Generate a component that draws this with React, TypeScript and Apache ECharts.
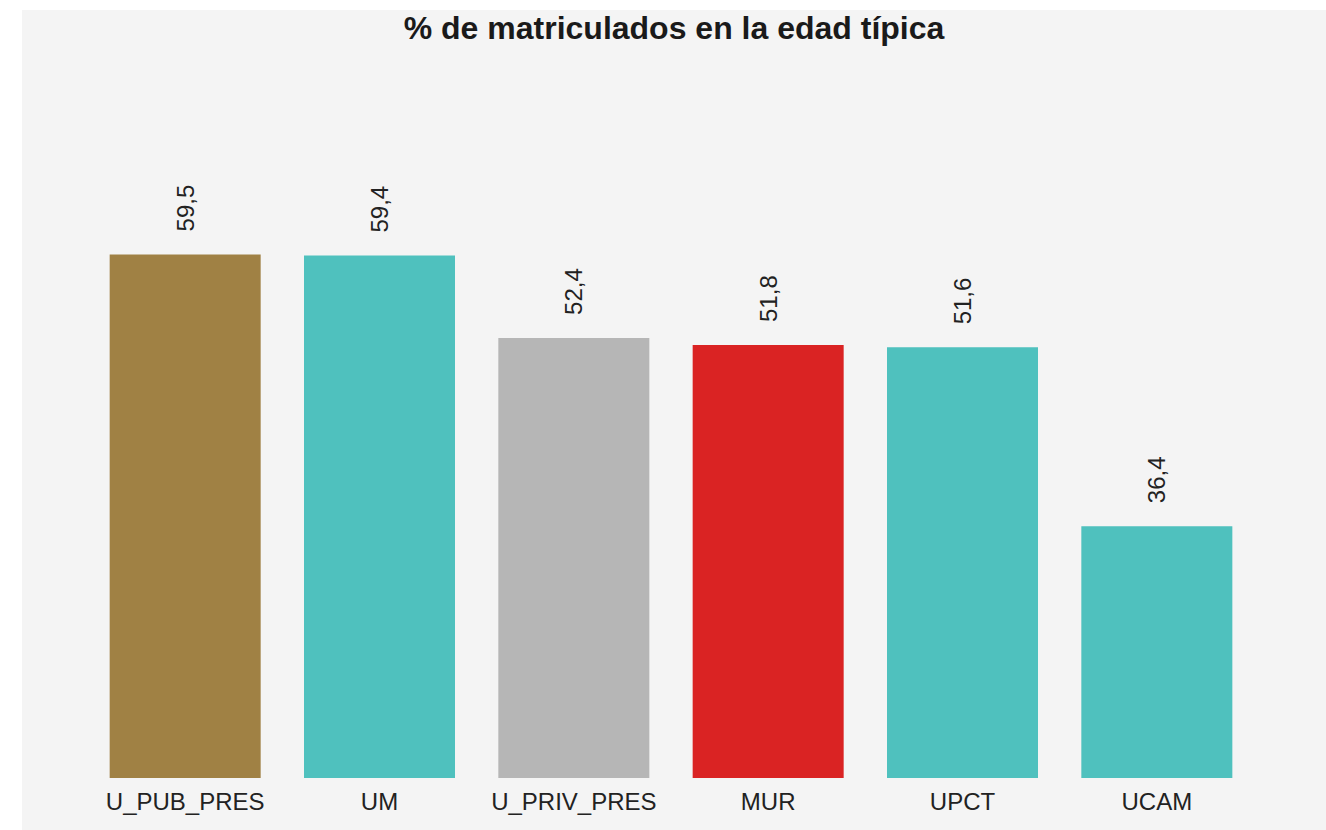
import React, { useEffect, useRef } from "react";
import * as echarts from "echarts";

const categories = ["U_PUB_PRES", "UM", "U_PRIV_PRES", "MUR", "UPCT", "UCAM"];
const values = [59.5, 59.4, 52.4, 51.8, 51.6, 36.4];
const colors = ["#A08144", "#4FC1BE", "#B6B6B6", "#DA2323", "#4FC1BE", "#4FC1BE"];
const titleText = "% de matriculados en la edad típica";

export default function App() {
  const ref = useRef<HTMLDivElement>(null);
  useEffect(() => {
    if (!ref.current) return;
    const chart = echarts.init(ref.current, null, { renderer: "svg" });
    chart.setOption({
      animation: false,
      backgroundColor: "#F4F4F4",
      textStyle: { fontFamily: "Liberation Sans, Arial, sans-serif" },
      title: {
        text: titleText,
        left: "center",
        top: 2,
        padding: 0,
        textStyle: { fontSize: 32, fontWeight: "bold", color: "#1a1a1a", fontFamily: "Liberation Sans, Arial, sans-serif" },
      },
      grid: { left: 66, right: 72, top: 62, bottom: 52 },
      xAxis: {
        type: "category",
        data: categories,
        axisLine: { show: false },
        axisTick: { show: false },
        axisLabel: { fontSize: 24, color: "#222", margin: 11, interval: 0 },
      },
      yAxis: {
        type: "value",
        min: 15,
        max: 75,
        show: false,
        splitLine: { show: false },
      },
      series: [
        {
          type: "bar",
          barWidth: 151,
          data: values.map((v, i) => ({ value: v, itemStyle: { color: colors[i] } })),
          label: {
            show: true,
            position: "top",
            rotate: 90,
            align: "left",
            verticalAlign: "middle",
            distance: 23,
            fontSize: 24,
            color: "#222",
            formatter: (p: any) => Number(p.value).toFixed(1).replace(".", ","),
          },
        },
      ],
    });
    return () => chart.dispose();
  }, []);
  return (
    <div
      ref={ref}
      style={{ position: "absolute", left: 22, top: 10, width: 1304, height: 820 }}
    />
  );
}
